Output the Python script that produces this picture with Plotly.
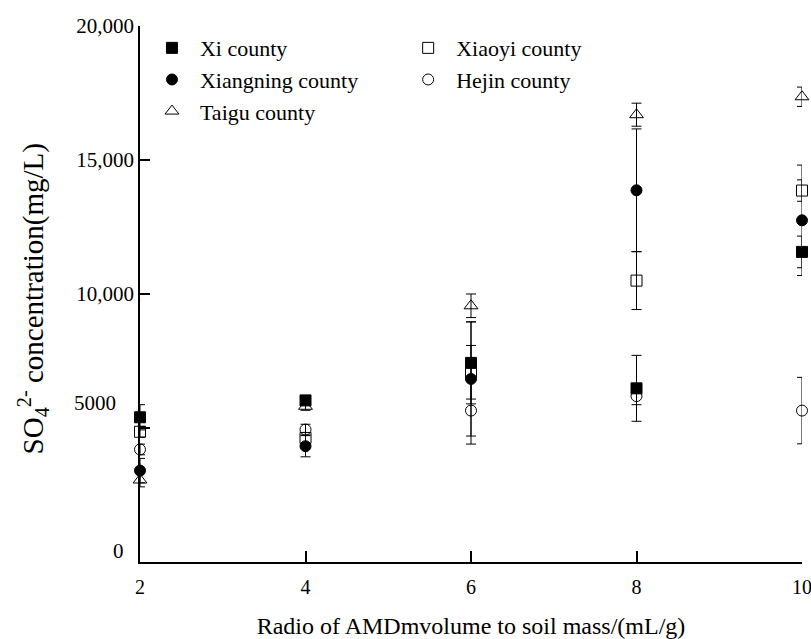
import plotly.graph_objects as go

# ---- data ----
ratio = [2, 4, 6, 8, 10]

xi = [5400, 6030, 7430, 6480, 11570]
xi_err = [470, 150, 1530, 1230, 590]

xiaoyi = [4860, 4630, 7080, 10500, 13860]
xiaoyi_err = [200, 200, 1000, 1080, 400]

xiangning = [3410, 4320, 6830, 13870, 12750]
xiangning_err = [455, 395, 2130, 2290, 2060]

hejin = [4200, 4940, 5650, 6190, 5650]
hejin_err = [200, 200, 1250, 320, 1240]

taigu = [3060, 5810, 9560, 16690, 17360]
taigu_err = [255, 150, 440, 430, 360]

y_major_vals = [10000, 15000, 20000]
y_major_text = ["10,000", "15,000", "20,000"]
y_minor_vals = [0, 5000]
x_tick_vals = [2, 4, 6, 8, 10]

FONT = "Liberation Serif"

series = [
    ("Xi county", xi, xi_err, "square", "legend", 11),
    ("Xiangning county", xiangning, xiangning_err, "circle", "legend", 11),
    ("Taigu county", taigu, taigu_err, "triangle-up-open", "legend", 12),
    ("Xiaoyi county", xiaoyi, xiaoyi_err, "square-open", "legend2", 11),
    ("Hejin county", hejin, hejin_err, "circle-open", "legend2", 11),
]

fig = go.Figure()
for name, vals, errs, sym, leg, sz in series:
    fig.add_trace(go.Scatter(
        x=ratio, y=vals, name=name, mode="markers",
        legend=leg, legendgroup=name,
        marker=dict(symbol=sym, size=sz, color="black",
                    line=dict(color="black", width=1)),
        error_y=dict(type="data", array=errs, visible=True,
                     color="black", thickness=1, width=5),
        cliponaxis=False,
    ))

legend_style = dict(xanchor="left", yanchor="top", y=0.998,
                    bgcolor="rgba(0,0,0,0)", font=dict(size=22, family=FONT),
                    itemwidth=46, tracegroupgap=0)

fig.update_layout(
    width=811, height=639,
    margin=dict(l=140, r=9, t=26, b=76.5, autoexpand=False),
    paper_bgcolor="white", plot_bgcolor="white",
    font=dict(family=FONT, color="black", size=20),
    legend=dict(x=0.006, **legend_style),
    legend2=dict(x=0.393, **legend_style),
    xaxis=dict(range=[2, 10], tickvals=x_tick_vals, ticks="inside",
               ticklen=11, tickwidth=1.5, tickcolor="black",
               showline=True, linecolor="black", linewidth=1.5,
               showgrid=False, zeroline=False, automargin=False,
               ticklabeloverflow="allow", ticklabelstandoff=6,
               tickfont=dict(size=20, family=FONT),
               title=dict(text="Radio of AMDmvolume to soil mass/(mL/g)",
                          font=dict(size=24, family=FONT), standoff=20)),
    yaxis=dict(range=[0, 20000], tickvals=y_major_vals, ticktext=y_major_text,
               ticks="inside", ticklen=10, tickwidth=1.5, tickcolor="black",
               minor=dict(tickvals=y_minor_vals, ticks="inside", ticklen=10,
                          tickwidth=1.5, tickcolor="black", showgrid=False),
               showline=True, linecolor="black", linewidth=1.5,
               showgrid=False, zeroline=False, automargin=False,
               tickfont=dict(size=21, family=FONT)),
    showlegend=True,
)

annotations = [
    dict(text="5000", x=-0.033, xref="paper", xanchor="right",
         y=5000, yref="y", yshift=25, showarrow=False,
         font=dict(size=21, family=FONT)),
    dict(text="0", x=-0.021, xref="paper", xanchor="right",
         y=0, yref="y", yshift=11, showarrow=False,
         font=dict(size=21, family=FONT)),
    dict(text="SO<sub>4</sub><sup>2-</sup> concentration(mg/L)",
         x=-0.1616, xref="paper", xanchor="center",
         y=0.49, yref="paper", yanchor="middle", textangle=-90,
         showarrow=False, font=dict(size=29, family=FONT)),
]
fig.update_layout(annotations=annotations)

fig.write_html("out.html")
